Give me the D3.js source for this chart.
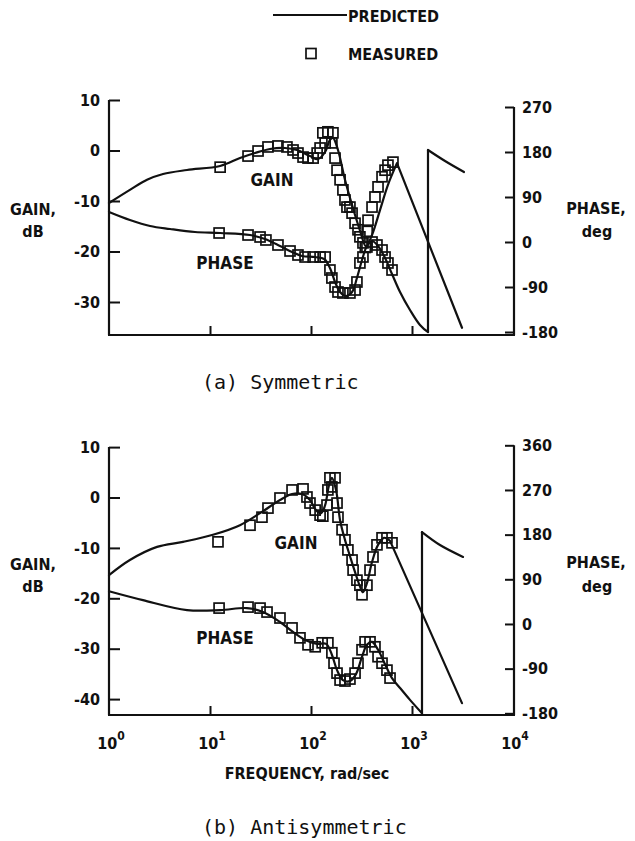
<!DOCTYPE html>
<html><head><meta charset="utf-8">
<script src="https://cdn.jsdelivr.net/npm/d3@7"></script>
<style>body{margin:0;background:#fff} svg{display:block}</style>
</head><body><svg id="c" width="635" height="841"></svg>
<script>
// ---------- DATA (frequency rad/sec, value) ----------
// (a) Symmetric
const symGainPred = [[1,-10.4],[1.61,-7.8],[2.38,-5.8],[3.43,-4.65],[5.92,-3.86],[12.6,-3.07],[19.8,-1.49],[27.9,-0.5],[39.3,0.3],[55.3,0.5],[72.6,0.1],[97.7,-1.1],[117,-1.7],[138,-0.3],[154,2.1],[165,2.5],[185,0.1],[217,-5.8],[255,-10.8],[305,-15.8],[351,-19.0],[402,-16.7],[482,-11.8],[578,-6.8],[710,-2.5],[3126,-35.1]];
const symPhasePred = [[1,60],[1.61,44],[2.55,32],[4.02,26],[7.1,20],[12.6,18],[24.9,14],[35,6],[49.3,-8],[64.9,-20],[81.5,-28],[110,-30],[135,-34],[154,-52],[173,-80],[194,-100],[222,-108],[255,-100],[285,-72],[320,-36],[358,-8],[402,2],[461,-8],[541,-32],[634,-64],[761,-100],[955,-136],[1200,-166],[1440,-180]];
const symPhaseWrap = [[1440,-180],[1440,184],[2123,162],[3273,140]];
const symGainMeas = [[12.6,-3.3],[23.8,-1.1],[29.9,-0.1],[37.5,0.7],[47.1,0.9],[57.8,0.7],[66.4,0.1],[74.3,-0.5],[83.4,-1.3],[93.4,-1.5],[105,-1.5],[115,-0.5],[123,0.5],[131,3.5],[147,3.7],[165,3.5],[138,1.5],[161,1.5],[173,-1.5],[181,-3.9],[194,-5.8],[207,-7.8],[217,-9.8],[227,-11.2],[243,-11.2],[255,-12.4],[273,-14.4],[292,-15.7],[305,-17.1],[327,-18.3],[345,-19.2],[360,-16.0],[367,-13.8],[402,-11.2],[430,-9.2],[461,-7.2],[505,-5.2],[541,-3.9],[578,-2.9],[648,-2.3]];
const symPhaseMeas = [[12.3,18],[23.8,14],[31.3,10],[35.8,4],[47.1,-6],[62,-18],[74.3,-26],[87.3,-30],[105,-30],[123,-30],[138,-30],[154,-56],[161,-72],[173,-90],[185,-100],[207,-102],[243,-102],[273,-96],[285,-80],[305,-42],[327,-30],[358,-10],[402,0],[450,-6],[505,-16],[541,-30],[578,-42],[634,-56]];

// (b) Antisymmetric
const antiGainPred = [[1,-15.4],[1.61,-12.4],[2.99,-9.8],[5.4,-8.8],[10.7,-7.4],[19.8,-5.5],[31.3,-3.1],[49.3,-0.5],[64.9,0.7],[81.5,0.7],[97.7,-0.5],[112,-2.5],[126,-3.1],[138,-1.5],[151,2.5],[161,3.9],[177,1.5],[194,-4.5],[217,-8.4],[243,-11.6],[273,-14.8],[305,-17.6],[327,-18.8],[358,-17.0],[402,-12.8],[461,-9.4],[528,-8.0],[606,-8.6],[3126,-40.8]];
const antiPhasePred = [[1,66],[2.17,48],[5.92,28],[12.6,28],[23.2,32],[33.5,24],[49.3,4],[66.4,-16],[91.2,-34],[115,-40],[141,-40],[161,-62],[181,-93],[207,-113],[243,-115],[279,-101],[320,-66],[358,-42],[402,-36],[461,-52],[541,-81],[634,-109],[761,-129],[955,-153],[1256,-180]];
const antiPhaseWrap = [[1256,-180],[1256,185],[1892,159],[3200,135]];
const antiGainMeas = [[12.0,-8.8],[24.9,-5.5],[32.7,-3.9],[37.5,-2.1],[49.3,-0.1],[64.9,1.5],[83.4,1.7],[91.2,0.1],[97.7,-1.1],[110,-2.5],[123,-3.5],[131,-3.7],[144,-1.5],[147,1.5],[154,3.9],[173,3.9],[161,2.1],[181,-1.1],[185,-3.9],[203,-6.4],[217,-8.4],[232,-10.4],[255,-12.4],[261,-14.4],[285,-16.4],[305,-17.4],[320,-19.3],[358,-17.4],[384,-14.4],[411,-11.8],[450,-9.4],[505,-8.0],[565,-8.0],[634,-9.0]];
const antiPhaseMeas = [[12.3,32],[23.8,34],[31.3,32],[36.7,24],[49.3,12],[64.9,-8],[77.8,-28],[93.4,-42],[110,-46],[129,-38],[147,-38],[161,-58],[169,-79],[181,-99],[194,-113],[217,-115],[243,-111],[273,-99],[292,-79],[320,-52],[343,-36],[384,-36],[430,-46],[461,-66],[505,-79],[565,-93],[606,-109]];

const gainTicksA = [10,0,-10,-20,-30];
const phaseTicksA = [270,180,90,0,-90,-180];
const gainTicksB = [10,0,-10,-20,-30,-40];
const phaseTicksB = [360,270,180,90,0,-90,-180];
const freqTicks = [1,10,100,1000,10000];
const freqExp = ["0","1","2","3","4"];

// ---------- DRAWING ----------
const svg = d3.select('#c');
const INK = '#111';
const FONT = "'DejaVu Sans Condensed','DejaVu Sans',sans-serif";
const MONO = "'DejaVu Sans Mono','Liberation Mono',monospace";
const x = d3.scaleLog().domain([1, 1e4]).range([109, 513]);

function label(t, px, py, size, anchor, fam, weight) {
  return svg.append('text').attr('x', px).attr('y', py).text(t)
    .attr('font-family', fam || FONT).attr('font-stretch', 'condensed')
    .attr('font-weight', weight || 'bold').attr('font-size', size)
    .attr('text-anchor', anchor || 'middle').attr('fill', INK);
}

function panel(o) {
  const g = svg.append('g');
  const yG = d3.scaleLinear().domain(o.gainDomain).range(o.gainRange);
  const yP = d3.scaleLinear().domain(o.phaseDomain).range(o.phaseRange);
  const bottom = o.bottom;

  // axis lines
  g.append('line').attr('x1', x(1)).attr('x2', x(1)).attr('y1', yG(o.gainTicks[0])).attr('y2', bottom)
    .attr('stroke', INK).attr('stroke-width', 2.2);
  g.append('line').attr('x1', x(1e4)+1).attr('x2', x(1e4)+1).attr('y1', yP(o.phaseTicks[0])).attr('y2', bottom)
    .attr('stroke', INK).attr('stroke-width', 2.2);
  g.append('line').attr('x1', x(1)-1).attr('x2', x(1e4)+2).attr('y1', bottom).attr('y2', bottom)
    .attr('stroke', INK).attr('stroke-width', 2.2);

  // left axis ticks (inward)
  const la = g.append('g').attr('transform', `translate(${x(1)},0)`)
    .call(d3.axisLeft(yG).tickValues(o.gainTicks).tickSize(-11).tickPadding(9).tickSizeOuter(0));
  // right axis ticks (inward)
  const ra = g.append('g').attr('transform', `translate(${x(1e4)+1},0)`)
    .call(d3.axisRight(yP).tickValues(o.phaseTicks).tickSize(-9).tickPadding(8).tickSizeOuter(0));
  // bottom ticks (inward)
  const ba = g.append('g').attr('transform', `translate(0,${bottom})`)
    .call(d3.axisBottom(x).tickValues([10,100,1000]).tickSize(-9).tickFormat('').tickSizeOuter(0));
  [la, ra, ba].forEach(a => {
    a.select('.domain').remove();
    a.selectAll('line').attr('stroke', INK).attr('stroke-width', 2);
    a.selectAll('text').attr('font-family', FONT).attr('font-stretch', 'condensed')
      .attr('font-weight', 'bold').attr('font-size', 16).attr('fill', INK);
  });
  la.selectAll('text').text(d => d < 0 ? '-' + Math.abs(d) : d);
  ra.selectAll('text').text(d => d < 0 ? '-' + Math.abs(d) : d);

  const lineCurve = (pts, ys) => d3.line().x(d => x(d[0])).y(d => ys(d[1]))
    .curve(d3.curveCatmullRom.alpha(0.5))(pts);
  const linear = (pts, ys) => d3.line().x(d => x(d[0])).y(d => ys(d[1]))(pts);
  const gainPath = (pts) => {
    const head = pts.slice(0, -1), last = pts[pts.length - 1];
    return lineCurve(head, yG) + `L${x(last[0])},${yG(last[1])}`;
  };
  const sty = p => p.attr('fill', 'none').attr('stroke', INK).attr('stroke-width', 2.2)
    .attr('stroke-linejoin', 'round').attr('stroke-linecap', 'round');

  sty(g.append('path').attr('d', gainPath(o.gainPred)));
  sty(g.append('path').attr('d', lineCurve(o.phasePred, yP)));
  sty(g.append('path').attr('d', linear(o.phaseWrap.slice(0, 2), yP) ));
  sty(g.append('path').attr('d', lineCurve(o.phaseWrap.slice(1), yP)));

  const sq = 10;
  g.append('g').selectAll('rect').data(o.gainMeas).join('rect')
    .attr('x', d => x(d[0]) - sq/2).attr('y', d => yG(d[1]) - sq/2)
    .attr('width', sq).attr('height', sq).attr('fill', 'none').attr('stroke', INK).attr('stroke-width', 1.7);
  g.append('g').selectAll('rect').data(o.phaseMeas).join('rect')
    .attr('x', d => x(d[0]) - sq/2).attr('y', d => yP(d[1]) - sq/2)
    .attr('width', sq).attr('height', sq).attr('fill', 'none').attr('stroke', INK).attr('stroke-width', 1.7);
}

panel({
  gainDomain: [10, -30], gainRange: [100, 302],
  phaseDomain: [270, -180], phaseRange: [107, 332],
  gainTicks: gainTicksA, phaseTicks: phaseTicksA, bottom: 335,
  gainPred: symGainPred, phasePred: symPhasePred, phaseWrap: symPhaseWrap,
  gainMeas: symGainMeas, phaseMeas: symPhaseMeas
});
panel({
  gainDomain: [10, -40], gainRange: [447.1, 699.1],
  phaseDomain: [360, -180], phaseRange: [445.3, 713.3],
  gainTicks: gainTicksB, phaseTicks: phaseTicksB, bottom: 715,
  gainPred: antiGainPred, phasePred: antiPhasePred, phaseWrap: antiPhaseWrap,
  gainMeas: antiGainMeas, phaseMeas: antiPhaseMeas
});

// x tick labels (bottom panel)
freqTicks.forEach((f, i) => {
  const t = svg.append('text').attr('x', x(f) + 2).attr('y', 749)
    .attr('font-family', FONT).attr('font-stretch', 'condensed').attr('font-weight', 'bold')
    .attr('font-size', 16).attr('text-anchor', 'middle').attr('fill', INK);
  t.append('tspan').text('10');
  t.append('tspan').attr('dy', -9).attr('font-size', 12).text(freqExp[i]);
});

// axis titles
label('FREQUENCY, rad/sec', 307, 779, 16);
label('GAIN,', 33, 215, 16); label('dB', 33, 237, 16);
label('PHASE,', 596, 214, 16); label('deg', 597, 237, 16);
label('GAIN,', 33, 570, 16); label('dB', 33, 592, 16);
label('PHASE,', 596, 568, 16); label('deg', 597, 592, 16);

// in-plot labels
label('GAIN', 272, 186, 17); label('PHASE', 225, 269, 17);
label('GAIN', 296, 549, 17); label('PHASE', 225, 644, 17);

// legend
svg.append('line').attr('x1', 273).attr('x2', 347).attr('y1', 15).attr('y2', 15)
  .attr('stroke', INK).attr('stroke-width', 2.2);
label('PREDICTED', 348, 22, 16, 'start');
svg.append('rect').attr('x', 306).attr('y', 48.5).attr('width', 10).attr('height', 10)
  .attr('fill', 'none').attr('stroke', INK).attr('stroke-width', 1.7);
label('MEASURED', 348, 60, 16, 'start');

// captions
label('(a)  Symmetric', 202, 389, 20, 'start', MONO, 'normal');
label('(b)  Antisymmetric', 202, 834, 20, 'start', MONO, 'normal');
</script>
</body></html>
